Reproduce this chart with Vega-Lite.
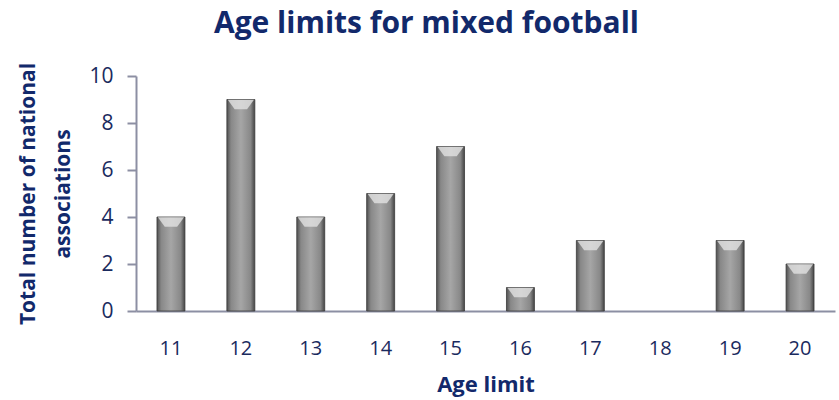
{
  "$schema": "https://vega.github.io/schema/vega-lite/v6.json",
  "autosize": {"type": "fit", "contains": "padding"},
  "width": 839,
  "height": 400,
  "padding": {"top": 12, "left": 17, "right": 4, "bottom": 5},
  "background": "white",
  "config": {"view": {"stroke": null}, "font": "Open Sans"},
  "title": {
    "text": "Age limits for mixed football",
    "fontSize": 30,
    "fontWeight": "bold",
    "color": "#12296b",
    "font": "Open Sans",
    "frame": "bounds",
    "anchor": "middle",
    "offset": 23
  },
  "data": {
    "values": [
      {"age": "11", "count": 4},
      {"age": "12", "count": 9},
      {"age": "13", "count": 4},
      {"age": "14", "count": 5},
      {"age": "15", "count": 7},
      {"age": "16", "count": 1},
      {"age": "17", "count": 3},
      {"age": "18", "count": 0},
      {"age": "19", "count": 3},
      {"age": "20", "count": 2}
    ]
  },
  "encoding": {
    "x": {
      "field": "age",
      "type": "ordinal",
      "scale": {
        "domain": ["11", "12", "13", "14", "15", "16", "17", "18", "19", "20"],
        "paddingInner": 0.6,
        "paddingOuter": 0.3
      },
      "axis": {
        "title": "Age limit",
        "titleFontSize": 22,
        "titleFontWeight": "bold",
        "titleColor": "#12296b",
        "titlePadding": 16,
        "labelAngle": 0,
        "labelFontSize": 20,
        "labelColor": "#1a2a5e",
        "labelPadding": 27,
        "ticks": false,
        "domainColor": "#8c8fa3",
        "domainWidth": 2
      }
    },
    "y": {
      "field": "count",
      "type": "quantitative",
      "scale": {"domain": [0, 10]},
      "axis": {
        "title": ["Total number of national", "associations"],
        "titleFontSize": 21,
        "titleFontWeight": "bold",
        "titleColor": "#12296b",
        "titleLineHeight": 35,
        "titlePadding": 15,
        "values": [0, 2, 4, 6, 8, 10],
        "labelFontSize": 21,
        "labelColor": "#1a2a5e",
        "labelPadding": 14,
        "tickSize": 9,
        "tickColor": "#8c8fa3",
        "tickWidth": 2,
        "domainColor": "#8c8fa3",
        "domainWidth": 2,
        "grid": false
      }
    }
  },
  "layer": [
    {
      "transform": [{"filter": "datum.count > 0"}],
      "mark": {
        "type": "bar",
        "stroke": "#3a3a3a",
        "strokeWidth": 0.8,
        "color": {
          "gradient": "linear",
          "x1": 0, "y1": 0, "x2": 1, "y2": 0,
          "stops": [
            {"offset": 0, "color": "#505050"},
            {"offset": 0.15, "color": "#888888"},
            {"offset": 0.5, "color": "#a6a6a6"},
            {"offset": 0.85, "color": "#888888"},
            {"offset": 1, "color": "#454545"}
          ]
        }
      }
    },
    {
      "transform": [{"filter": "datum.count > 0"}],
      "mark": {
        "type": "point",
        "shape": "M-0.95,-0.35L0.95,-0.35L0.45,0.35L-0.45,0.35Z",
        "filled": true,
        "color": "#e2e2e2",
        "opacity": 0.8,
        "size": 760,
        "yOffset": 5
      }
    }
  ]
}
